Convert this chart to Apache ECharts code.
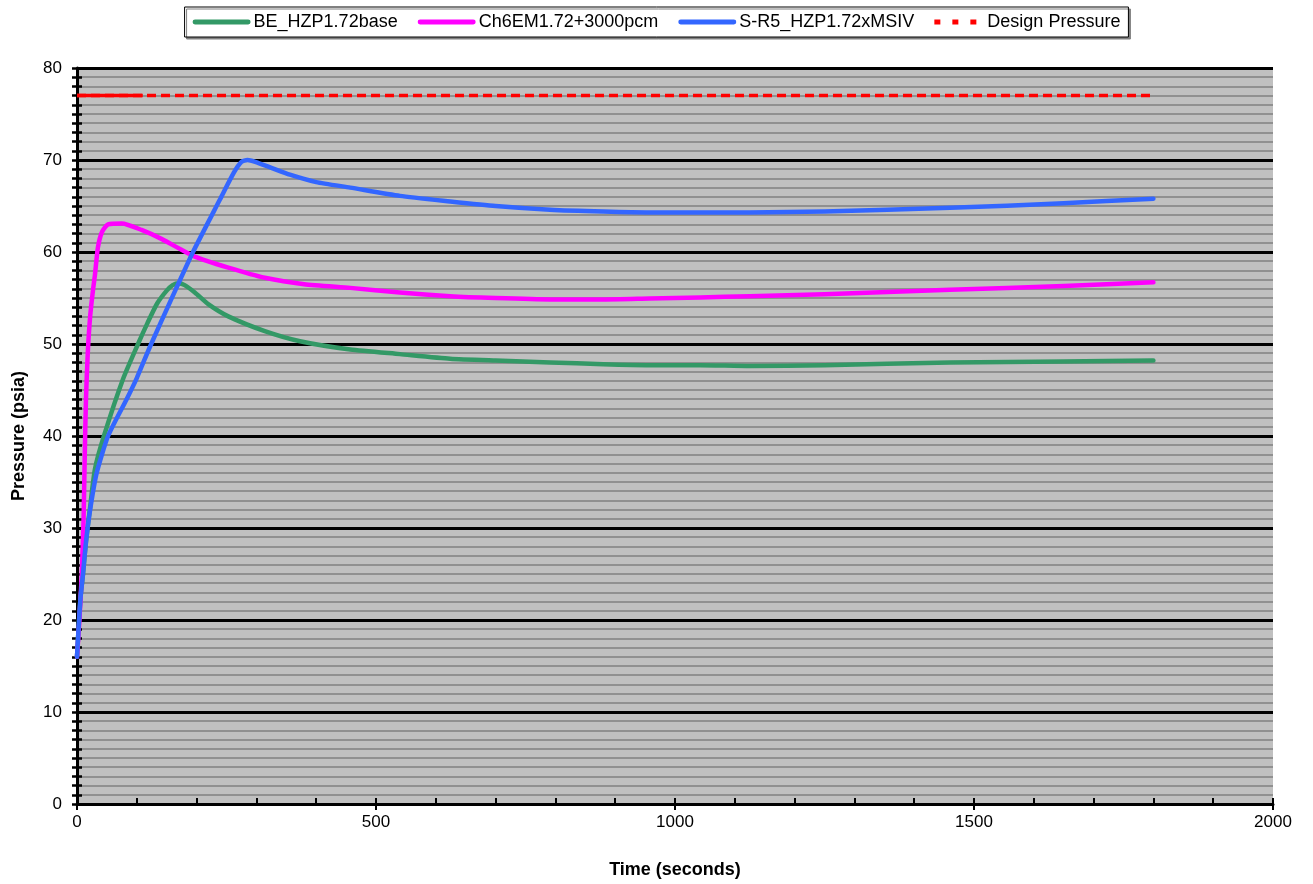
<!DOCTYPE html>
<html>
<head>
<meta charset="utf-8">
<title>Pressure vs Time</title>
<script src="https://cdn.jsdelivr.net/npm/echarts@6/dist/echarts.min.js"></script>
<style>
  html, body { margin: 0; padding: 0; background: #ffffff; }
  #chart { width: 1313px; height: 884px; }
</style>
</head>
<body>
<div id="chart"></div>
<script>
// Time (s), pressure (psia) pairs for each case
const beHzpBase = [
  [0, 16], [3, 19.5], [6, 22.5], [10, 25], [15, 28.5], [22, 32.3], [30, 36.4],
  [45, 40], [77, 46.2], [102, 50], [118, 52.3], [134, 54.4], [150, 55.8], [160, 56.4],
  [170, 56.6], [180, 56.4], [197, 55.6], [220, 54.3], [253, 53.0], [314, 51.4],
  [373, 50.3], [457, 49.4], [540, 48.9], [624, 48.4], [700, 48.2], [791, 48.0],
  [880, 47.8], [958, 47.7], [1042, 47.7], [1125, 47.6], [1250, 47.7], [1460, 48.0],
  [1650, 48.1], [1800, 48.2]
];
const ch6em3000 = [
  [0, 16], [4, 20], [8, 25], [11, 31], [13, 38], [15, 44], [18, 49], [22, 53],
  [27, 56], [30, 57.5], [35, 60.5], [42, 62.2], [52, 63], [75, 63.1], [108, 62.4],
  [142, 61.4], [197, 59.5], [253, 58.3], [314, 57.2], [380, 56.5], [457, 56.1],
  [540, 55.6], [624, 55.2], [700, 55.0], [791, 54.85], [880, 54.85], [958, 54.95],
  [1042, 55.05], [1125, 55.2], [1250, 55.4], [1460, 55.9], [1650, 56.3], [1800, 56.7]
];
const sr5Msiv = [
  [0, 16], [3, 19.5], [6, 22.5], [10, 25], [15, 28.5], [22, 32], [33, 36], [52, 40],
  [83, 44], [100, 46.3], [122, 49.7], [160, 55.2], [194, 60], [239, 65.7], [262, 68.6],
  [275, 69.8], [285, 70], [298, 69.8], [323, 69.2], [356, 68.4], [400, 67.6], [457, 67.0],
  [540, 66.1], [624, 65.5], [700, 65.0], [791, 64.6], [880, 64.4], [958, 64.3],
  [1042, 64.3], [1125, 64.3], [1250, 64.4], [1460, 64.8], [1650, 65.3], [1800, 65.8]
];
const designPressure = [[0, 77], [1800, 77]];
const designPressureEarly = [[0, 77], [110, 77]];

const seriesNames = ['BE_HZP1.72base', 'Ch6EM1.72+3000pcm', 'S-R5_HZP1.72xMSIV', 'Design Pressure'];
const seriesColors = ['#339966', '#FF00FF', '#3366FF', '#FF0000'];

const xMin = 0, xMax = 2000, xMajor = 500, xMinor = 100;
const yMin = 0, yMax = 80, yMajor = 10, yMinor = 1;

const fontFamily = 'Liberation Sans, Arial, sans-serif';

// Legend swatches: a solid bar for the curves, three squares for the dashed limit
const solidIcon = 'path://M2.5,0H57.5A2.5,2.5,0,0,1,57.5,5H2.5A2.5,2.5,0,0,1,2.5,0Z';
const dottedIcon = 'path://M0,0H6V5H0Z M18,0H24V5H18Z M36,0H42V5H36Z';

function curve(name, data, color) {
  return {
    name: name,
    type: 'line',
    data: data,
    xAxisIndex: 0,
    yAxisIndex: 0,
    symbol: 'none',
    smooth: 0.2,
    lineStyle: { color: color, width: 4.5, cap: 'round', join: 'round' },
    itemStyle: { color: color },
    emphasis: { disabled: true }
  };
}

const chart = echarts.init(document.getElementById('chart'), null, { renderer: 'canvas' });

chart.setOption({
  animation: false,
  backgroundColor: '#ffffff',
  textStyle: { fontFamily: fontFamily },
  legend: {
    data: [
      { name: seriesNames[0], icon: solidIcon },
      { name: seriesNames[1], icon: solidIcon },
      { name: seriesNames[2], icon: solidIcon },
      { name: seriesNames[3], icon: dottedIcon }
    ],
    top: 7,
    left: 'center',
    itemWidth: 58,
    itemHeight: 5,
    itemGap: 20,
    padding: [6, 8, 6, 8],
    backgroundColor: '#ffffff',
    borderColor: '#000000',
    borderWidth: 1,
    shadowColor: '#808080',
    shadowOffsetX: 2,
    shadowOffsetY: 2,
    shadowBlur: 0,
    textStyle: { fontFamily: fontFamily, fontSize: 18, color: '#000000', padding: [0, 0, 0, -2] }
  },
  grid: {
    left: 77, right: 40, top: 68, bottom: 78,
    show: true, backgroundColor: '#C0C0C0', borderWidth: 0,
    containLabel: false
  },
  xAxis: [
    {
      type: 'value', min: xMin, max: xMax, interval: xMajor,
      position: 'bottom',
      name: 'Time (seconds)', nameLocation: 'middle', nameGap: 57,
      nameTextStyle: { fontFamily: fontFamily, fontSize: 18, fontWeight: 'bold', color: '#000000' },
      axisLine: { show: true, onZero: false, lineStyle: { color: '#000000', width: 3 } },
      axisTick: { show: true, inside: false, length: 6, lineStyle: { color: '#000000', width: 2 } },
      axisLabel: { fontFamily: fontFamily, fontSize: 17, color: '#000000', margin: 10,
        formatter: function (v) { return String(v); } },
      splitLine: { show: false }
    },
    {
      type: 'value', min: xMin, max: xMax, interval: xMinor,
      position: 'bottom',
      axisLine: { show: false },
      axisTick: { show: true, inside: true, length: 6, lineStyle: { color: '#000000', width: 2 } },
      axisLabel: { show: false },
      splitLine: { show: false }
    }
  ],
  yAxis: [
    {
      type: 'value', min: yMin, max: yMax, interval: yMajor,
      position: 'left',
      name: 'Pressure (psia)', nameLocation: 'middle', nameGap: 49, nameRotate: 90,
      nameTextStyle: { fontFamily: fontFamily, fontSize: 18, fontWeight: 'bold', color: '#000000' },
      axisLine: { show: true, onZero: false, lineStyle: { color: '#000000', width: 3 } },
      axisTick: { show: true, inside: false, length: 5, lineStyle: { color: '#000000', width: 2.5 } },
      minorTick: { show: true, splitNumber: yMajor / yMinor, length: 5, lineStyle: { color: '#000000', width: 2.5 } },
      axisLabel: { fontFamily: fontFamily, fontSize: 17, color: '#000000', margin: 15 },
      splitLine: { show: true, lineStyle: { color: '#000000', width: 3 } },
      minorSplitLine: { show: true, lineStyle: { color: '#808080', width: 1.6 } }
    },
    {
      type: 'value', min: yMin, max: yMax, interval: yMinor,
      position: 'left',
      axisLine: { show: false },
      axisTick: { show: true, inside: true, length: 5, lineStyle: { color: '#000000', width: 2.5 } },
      axisLabel: { show: false },
      splitLine: { show: false }
    }
  ],
  series: [
    curve(seriesNames[0], beHzpBase, seriesColors[0]),
    curve(seriesNames[1], ch6em3000, seriesColors[1]),
    curve(seriesNames[2], sr5Msiv, seriesColors[2]),
    {
      name: seriesNames[3],
      type: 'line',
      data: designPressure,
      symbol: 'none',
      lineStyle: { color: seriesColors[3], width: 3.5, type: [9, 5] },
      itemStyle: { color: seriesColors[3] },
      emphasis: { disabled: true }
    },
    {
      name: seriesNames[3],
      type: 'line',
      data: designPressureEarly,
      symbol: 'none',
      lineStyle: { color: seriesColors[3], width: 3.5 },
      itemStyle: { color: seriesColors[3] },
      emphasis: { disabled: true }
    }
  ]
});
</script>
</body>
</html>
